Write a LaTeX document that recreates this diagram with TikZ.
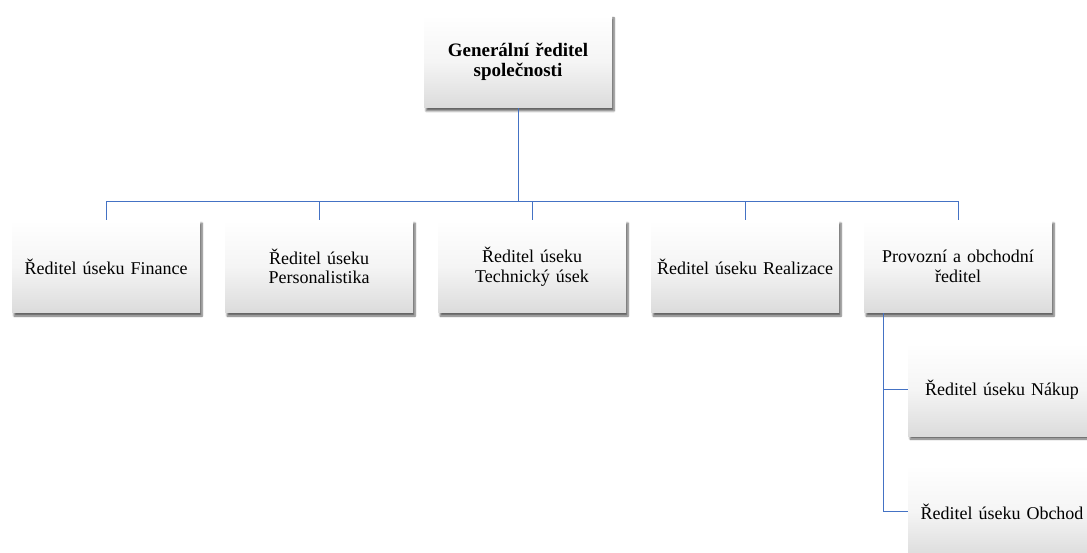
\documentclass[tikz,border=0pt]{standalone}
\usepackage{fontspec}
\setmainfont{Liberation Serif}
\usetikzlibrary{shadows.blur}
\definecolor{linec}{RGB}{68,114,196}
\tikzset{
  box/.style={minimum width=188pt, minimum height=93pt, inner sep=2pt,
    text width=178pt, align=center, font=\fontsize{18}{19.5}\selectfont,
    top color=white, bottom color=black!14, middle color=white!96!black,
    blur shadow={shadow xshift=2pt, shadow yshift=-3pt, shadow blur steps=6, shadow opacity=60}},
  conn/.style={draw=linec, line width=1pt}
}
\begin{document}
\begin{tikzpicture}[x=1pt,y=-1pt]
\useasboundingbox (0,0) rectangle (1087,553);
\node[box, font=\bfseries\fontsize{19}{20}\selectfont] (top) at (518,61.5) {Generální ředitel\\společnosti};
\node[box] (b1) at (106,266.5) {Ředitel úseku Finance};
\node[box] (b2) at (319,266.5) {Ředitel úseku\\Personalistika};
\node[box] (b3) at (532,266.5) {Ředitel úseku\\Technický úsek};
\node[box] (b4) at (745,266.5) {Ředitel úseku Realizace};
\node[box] (b5) at (958,266.5) {Provozní a obchodní\\ředitel};
\node[box] (nakup) at (1002,389.5) {Ředitel úseku Nákup};
\node[box] (obchod) at (1002,511.5) {Ředitel úseku Obchod};
\coordinate (bus) at (518,202);
\coordinate (sub) at (883,0);
\draw[conn] (top.south) -- (top.south |- bus);
\draw[conn] (b1.north) -- (b1.north |- bus) -- (b5.north |- bus) -- (b5.north);
\foreach \n in {b2,b3,b4} \draw[conn] (\n.north) -- (\n.north |- bus);
\draw[conn] (b5.south -| sub) |- (obchod.west);
\draw[conn] (sub |- nakup.west) -- (nakup.west);
\end{tikzpicture}
\end{document}
